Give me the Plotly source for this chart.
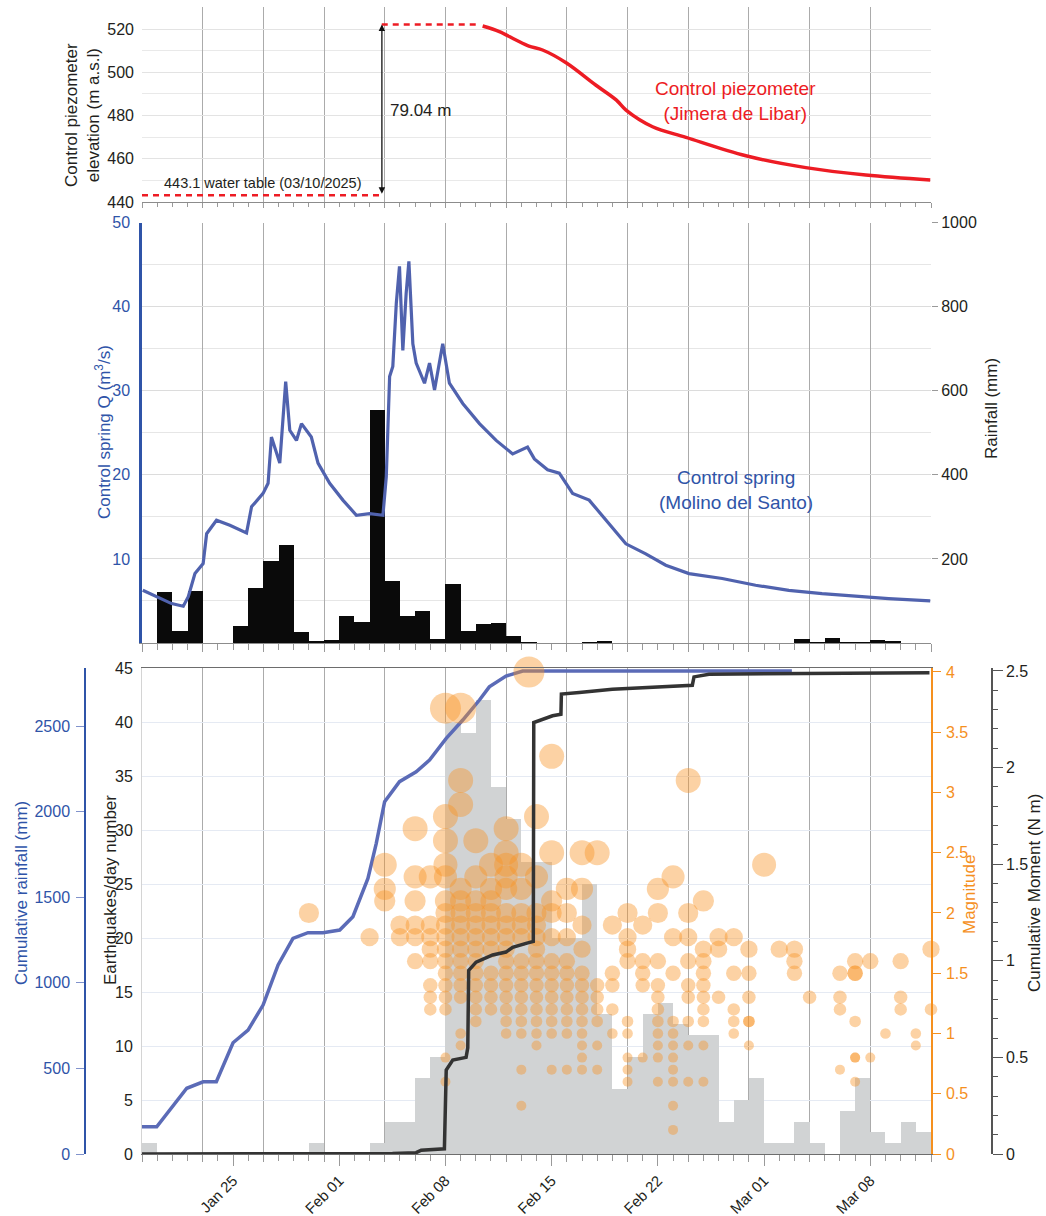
import pandas as pd
import plotly.graph_objects as go

W, H = 1046, 1216
BASE_DATE = "2026-01-19"
X_RANGE = ["2026-01-19", "2026-03-12"]
TICK_DATES = ["2026-01-25", "2026-02-01", "2026-02-08", "2026-02-15", "2026-02-22", "2026-03-01", "2026-03-08"]
TICK_LABELS = ["Jan 25", "Feb 01", "Feb 08", "Feb 15", "Feb 22", "Mar 01", "Mar 08"]

# ---------------- top panel: control piezometer ----------------
PIEZO_BASE_LEVEL = 443.1
PIEZO_RISE = 79.04
PIEZO_BASE_DAYS = [0.0, 15.8]
PIEZO_PEAK_DAYS = [15.8, 22.2]
PIEZO_DAY = [22.45, 23.55, 24.65, 25.5, 26.4, 27.95, 29.9, 31.25, 31.9, 33.65, 35.85, 39.8, 43.75, 47.7, 51.95]
PIEZO_LEVEL = [521.4, 518.8, 514.9, 512.1, 510.3, 504.4, 494.1, 487.2, 482.5, 474.8, 469.9, 461.4, 455.9, 452.5, 450.2]

# ---------------- middle panel: spring discharge + rainfall ----------------
SPRING_DAY = [0.05, 0.97, 1.95, 2.72, 3.05, 3.49, 4.03, 4.26, 4.91, 5.79, 6.89, 7.22, 7.98, 8.31, 8.53,
              9.08, 9.34, 9.47, 9.74, 10.18, 10.51, 11.16, 11.6, 12.37, 13.24, 14.13, 15.0, 15.88, 16.1,
              16.32, 16.53, 16.76, 16.97, 17.19, 17.41, 17.59, 17.85, 18.07, 18.62, 18.95, 19.28, 19.82,
              20.26, 21.14, 22.24, 23.34, 24.43, 25.41, 25.86, 26.73, 27.5, 28.38, 29.47, 30.57, 31.89,
              33.2, 34.52, 36.05, 38.24, 40.44, 42.63, 44.82, 47.02, 49.21, 51.95]
SPRING_Q = [6.27, 5.48, 4.69, 4.37, 5.5, 8.26, 9.45, 13.0, 14.6, 14.0, 13.1, 16.2, 17.8, 19.0, 24.5,
            21.4, 27.7, 31.1, 25.3, 24.1, 26.1, 24.5, 21.4, 19.0, 17.0, 15.2, 15.4, 15.2, 19.8,
            31.7, 32.9, 40.4, 44.8, 34.8, 41.6, 45.4, 35.6, 33.3, 30.9, 33.3, 30.1, 35.6,
            30.9, 28.5, 26.1, 24.1, 22.5, 23.3, 21.9, 20.6, 20.2, 17.8, 17.0, 14.6, 11.8,
            10.6, 9.25, 8.26, 7.67, 6.87, 6.27, 5.88, 5.56, 5.28, 5.0]

RAIN_DATES = ["2026-01-20", "2026-01-21", "2026-01-22", "2026-01-25", "2026-01-26", "2026-01-27",
              "2026-01-28", "2026-01-29", "2026-01-30", "2026-01-31", "2026-02-01", "2026-02-02",
              "2026-02-03", "2026-02-04", "2026-02-05", "2026-02-06", "2026-02-07", "2026-02-08",
              "2026-02-09", "2026-02-10", "2026-02-11", "2026-02-12", "2026-02-13", "2026-02-17",
              "2026-02-18", "2026-03-03", "2026-03-04", "2026-03-05", "2026-03-06", "2026-03-07",
              "2026-03-08", "2026-03-09"]
RAIN_MM = [123, 29, 125, 40, 131, 197, 233, 28, 5, 8, 66, 51, 555, 148, 66, 78, 10, 140,
           29, 46, 49, 18, 1, 1, 6, 10, 1, 13, 2, 1, 7, 5]

# ---------------- bottom panel: seismicity ----------------
EQ_FIRST_DAY = "2026-01-19"
EQ_COUNT = [1, 0, 0, 0, 0, 0, 0, 0, 0, 0, 0, 1, 0,
            0, 0, 1, 3, 3, 7, 9, 40, 39, 42, 34, 31, 27, 27, 20, 20, 25, 13, 6, 9, 13, 14, 12, 11, 11, 3, 5, 7,
            1, 1, 3, 1, 0, 4, 7, 2, 1, 3, 2]

CUMRAIN_DAY = [0.0, 0.97, 2.95, 4.03, 4.9, 6.0, 6.99, 7.98, 8.97, 9.95, 10.94, 11.93, 13.03, 13.9,
               14.89, 15.44, 15.99, 16.97, 18.07, 18.95, 20.05, 21.14, 22.24, 22.89, 23.99, 25.09, 42.83]
CUMRAIN_MM = [159, 159, 384, 422, 422, 650, 724, 870, 1104, 1260, 1293, 1293, 1308, 1386,
              1610, 1815, 2058, 2175, 2233, 2301, 2428, 2535, 2652, 2729, 2792, 2821, 2821]

MOMENT_DAY = [0.0, 15.0, 16.51, 18.07, 18.4, 19.93, 20.05, 20.48, 21.36, 21.47, 21.53, 22.02, 23.11,
              23.99, 24.43, 25.31, 25.79, 25.82, 26.4, 27.06, 27.61, 27.64, 28.82, 31.0, 36.27, 36.38,
              37.37, 51.9]
MOMENT_NM = [0.0, 0.0, 0.003, 0.007, 0.02, 0.027, 0.434, 0.486, 0.50, 0.55, 0.95, 0.993, 1.03,
             1.045, 1.07, 1.09, 1.10, 2.233, 2.25, 2.268, 2.276, 2.38, 2.388, 2.405, 2.426, 2.469,
             2.483, 2.49]

MAG_DATES = ["2026-01-30", "2026-02-03", "2026-02-04", "2026-02-05", "2026-02-06", "2026-02-07",
             "2026-02-08", "2026-02-09", "2026-02-10", "2026-02-11", "2026-02-12", "2026-02-13",
             "2026-02-13 12:00", "2026-02-14", "2026-02-15", "2026-02-16", "2026-02-17", "2026-02-18",
             "2026-02-19", "2026-02-20", "2026-02-21", "2026-02-22", "2026-02-23", "2026-02-24",
             "2026-02-25", "2026-02-26", "2026-02-27", "2026-02-28", "2026-03-01", "2026-03-02",
             "2026-03-03", "2026-03-04", "2026-03-06", "2026-03-07", "2026-03-08", "2026-03-09",
             "2026-03-10", "2026-03-11", "2026-03-12"]
MAG_VALUES = [
    [2.0],
    [1.8],
    [2.4, 2.2, 2.1],
    [1.9, 1.8],
    [2.7, 2.3, 2.1, 1.9, 1.8, 1.6],
    [2.3, 1.9, 1.8, 1.7, 1.6, 1.4, 1.3, 1.2],
    [3.7, 2.8, 2.6, 2.4, 2.3, 2.1, 2.0, 1.9, 1.8, 1.7, 1.6, 1.5, 1.4, 1.3, 1.2, 0.8, 0.6],
    [3.7, 3.1, 2.9, 2.2, 2.1, 2.0, 1.9, 1.8, 1.7, 1.6, 1.5, 1.4, 1.3, 1.0, 0.9],
    [2.6, 2.3, 2.1, 2.0, 1.9, 1.8, 1.7, 1.6, 1.5, 1.4, 1.3, 1.2, 1.1],
    [2.4, 2.2, 2.1, 2.0, 1.9, 1.8, 1.7, 1.5, 1.4, 1.3, 1.2],
    [2.7, 2.5, 2.4, 2.3, 2.2, 2.0, 1.9, 1.8, 1.7, 1.6, 1.5, 1.4, 1.3, 1.2, 1.1, 1.0],
    [2.4, 2.2, 2.0, 1.9, 1.8, 1.6, 1.5, 1.4, 1.3, 1.2, 1.1, 1.0, 0.7, 0.4],
    [4.0],
    [2.8, 2.3, 2.0, 1.9, 1.8, 1.7, 1.6, 1.5, 1.4, 1.3, 1.2, 1.1, 1.0, 0.9],
    [3.3, 2.5, 2.1, 2.0, 1.8, 1.6, 1.5, 1.4, 1.3, 1.2, 1.1, 1.0, 0.7],
    [2.2, 2.0, 1.8, 1.6, 1.5, 1.4, 1.3, 1.2, 1.1, 1.0, 0.7],
    [2.5, 2.2, 1.9, 1.7, 1.5, 1.4, 1.3, 1.2, 1.1, 1.0, 0.9, 0.8, 0.7],
    [2.5, 1.4, 1.3, 1.2, 1.1, 0.9, 0.7],
    [1.9, 1.5, 1.4, 1.2, 1.0],
    [2.0, 1.8, 1.7, 1.6, 1.1, 1.0, 0.8, 0.7, 0.6],
    [1.9, 1.6, 1.5, 1.4, 0.8],
    [2.2, 2.0, 1.6, 1.4, 1.3, 1.2, 1.1, 1.0, 0.9, 0.8, 0.6],
    [2.3, 1.8, 1.5, 1.1, 1.0, 0.9, 0.8, 0.7, 0.6, 0.4, 0.2],
    [3.1, 2.0, 1.8, 1.6, 1.4, 1.3, 1.1, 0.9, 0.6],
    [2.1, 1.7, 1.6, 1.5, 1.4, 1.3, 1.2, 1.1, 0.9, 0.6],
    [1.8, 1.7, 1.3],
    [1.8, 1.5, 1.2, 1.1, 1.0],
    [1.7, 1.5, 1.3, 1.1, 1.1, 0.9],
    [2.4],
    [1.7],
    [1.7, 1.6, 1.5],
    [1.3],
    [1.5, 1.3, 1.2, 0.7],
    [1.6, 1.5, 1.5, 1.1, 0.8, 0.8, 0.6],
    [1.6, 0.8],
    [1.0],
    [1.6, 1.3, 1.2],
    [1.0, 0.9],
    [1.7, 1.2],
]

# ---------------- helpers ----------------
base = pd.Timestamp(BASE_DATE)
DAY_MS = 86400000


def from_days(days):
    return [base + pd.to_timedelta(d, unit="D") for d in days]


def day_centres(dates):
    return [pd.Timestamp(d) + pd.Timedelta(hours=12) for d in dates]


def px_x(px):
    return px / W


def px_y(px):
    return 1 - px / H


X_DOM = [px_x(142), px_x(931)]
TOP_DOM = [px_y(202), px_y(7.4)]
MID_DOM = [px_y(643), px_y(222.7)]
BOT_DOM = [px_y(1154), px_y(668)]

FONT = "Liberation Sans, Arial, sans-serif"
DARK = "#231f20"
BLUE_TXT = "#2f54a8"
ORANGE = "#f5901e"
RED = "#ed1c24"
VGRID = "#ababab"

fig = go.Figure()

# ---- bottom panel traces ----
eq_dates = pd.date_range(EQ_FIRST_DAY, periods=len(EQ_COUNT), freq="D")
fig.add_trace(go.Bar(x=day_centres(eq_dates), y=EQ_COUNT, width=DAY_MS,
                     marker=dict(color="#d1d3d4", line=dict(width=0)),
                     xaxis="x", yaxis="y", hoverinfo="skip"))
fig.add_trace(go.Scatter(x=from_days(CUMRAIN_DAY), y=CUMRAIN_MM, mode="lines",
                         line=dict(color="#5b6bb7", width=3.5),
                         xaxis="x", yaxis="y2", hoverinfo="skip"))
mx, my = [], []
for d, mags in zip(MAG_DATES, MAG_VALUES):
    for m in mags:
        mx.append(pd.Timestamp(d))
        my.append(m)
msize = [31 if m >= 3.5 else min(max(1 + 9.6 * m, 10), 25) for m in my]
fig.add_trace(go.Scatter(x=mx, y=my, mode="markers", cliponaxis=False,
                         marker=dict(size=msize, color="rgba(247,147,38,0.6)", line=dict(width=0)),
                         xaxis="x", yaxis="y3", hoverinfo="skip"))
fig.add_trace(go.Scatter(x=from_days(MOMENT_DAY), y=MOMENT_NM, mode="lines",
                         line=dict(color="#333333", width=3.5),
                         xaxis="x", yaxis="y4", hoverinfo="skip"))
# carrier for the date label axis
fig.add_trace(go.Scatter(x=X_RANGE, y=[None, None], mode="lines", xaxis="x4", yaxis="y",
                         hoverinfo="skip"))

# ---- middle panel traces ----
fig.add_trace(go.Bar(x=day_centres(RAIN_DATES), y=RAIN_MM, width=DAY_MS,
                     marker=dict(color="#0a0a0a", line=dict(width=0)),
                     xaxis="x2", yaxis="y5", hoverinfo="skip"))
fig.add_trace(go.Scatter(x=from_days(SPRING_DAY), y=SPRING_Q, mode="lines",
                         line=dict(color="#5062ae", width=3.2),
                         xaxis="x2", yaxis="y6", hoverinfo="skip"))

# ---- top panel traces ----
peak_level = PIEZO_BASE_LEVEL + PIEZO_RISE
fig.add_trace(go.Scatter(x=from_days(PIEZO_BASE_DAYS), y=[PIEZO_BASE_LEVEL] * 2, mode="lines",
                         line=dict(color=RED, width=2.5, dash="6px,5px"),
                         xaxis="x3", yaxis="y7", hoverinfo="skip"))
fig.add_trace(go.Scatter(x=from_days(PIEZO_PEAK_DAYS), y=[peak_level] * 2, mode="lines",
                         line=dict(color=RED, width=2.5, dash="6px,5px"),
                         xaxis="x3", yaxis="y7", hoverinfo="skip"))
fig.add_trace(go.Scatter(x=from_days(PIEZO_DAY), y=PIEZO_LEVEL, mode="lines",
                         line=dict(color=RED, width=3.5, shape="spline"),
                         xaxis="x3", yaxis="y7", hoverinfo="skip"))

tickfont = dict(family=FONT, size=16, color=DARK)


def time_axis(anchor, long_len=8):
    return dict(domain=X_DOM, anchor=anchor, type="date", range=X_RANGE,
                tick0=BASE_DATE, dtick=4 * DAY_MS, showgrid=True, gridcolor=VGRID, gridwidth=1,
                ticks="outside", ticklen=long_len, tickcolor="#9a9a9a", showticklabels=False,
                minor=dict(dtick=DAY_MS, tick0=BASE_DATE, ticks="outside", ticklen=6,
                           tickcolor="#9a9a9a", showgrid=False),
                showline=True, linecolor="#8c8c8c", linewidth=1, zeroline=False,
                automargin=False, fixedrange=True)


xb = time_axis("y", long_len=7)
xb.update(mirror=True, linecolor="#6d6d6d")
x2 = time_axis("y5")
x3 = time_axis("y7", long_len=5)
x3["minor"]["ticklen"] = 4

fig.update_layout(
    width=W, height=H, template="none",
    margin=dict(l=0, r=0, t=0, b=0),
    paper_bgcolor="white", plot_bgcolor="rgba(0,0,0,0)",
    showlegend=False, bargap=0, barmode="overlay",
    font=dict(family=FONT, size=16, color=DARK),
    xaxis=xb,
    xaxis2=x2,
    xaxis3=x3,
    xaxis4=dict(domain=X_DOM, anchor="y", overlaying="x", type="date", range=X_RANGE,
                tickmode="array", tickvals=TICK_DATES, ticktext=TICK_LABELS,
                ticks="outside", ticklen=11, tickcolor="#9a9a9a", tickangle=-45,
                tickfont=dict(family=FONT, size=15, color=DARK),
                showgrid=False, showline=False, zeroline=False, automargin=False),
    # bottom panel
    yaxis=dict(domain=BOT_DOM, anchor="x", range=[0, 45], dtick=5, tick0=0,
               showgrid=True, gridcolor="#e5eaf3", gridwidth=1, zeroline=False,
               showline=True, linecolor="#d4d4d4", ticks="", ticklabelstandoff=5,
               tickfont=tickfont, automargin=False),
    yaxis2=dict(domain=BOT_DOM, overlaying="y", anchor="free", position=px_x(85), side="left",
                range=[0, 2839], tickmode="array", tickvals=[0, 500, 1000, 1500, 2000, 2500],
                showgrid=False, zeroline=False, showline=True, linecolor="#2f54a8", linewidth=1.5,
                ticks="outside", ticklen=8, tickcolor="#8193cc", ticklabelstandoff=3,
                tickfont=dict(family=FONT, size=16, color=BLUE_TXT), automargin=False),
    yaxis3=dict(domain=BOT_DOM, overlaying="y", anchor="x", side="right",
                range=[0, 4.033], dtick=0.5, tick0=0, showgrid=False, zeroline=False,
                showline=True, linecolor=ORANGE, linewidth=1.5, ticks="outside", ticklen=8,
                tickcolor=ORANGE, ticklabelstandoff=2,
                tickfont=dict(family=FONT, size=16, color=ORANGE), automargin=False),
    yaxis4=dict(domain=BOT_DOM, overlaying="y", anchor="free", position=px_x(992), side="right",
                range=[0, 2.515], dtick=0.5, tick0=0, showgrid=False, zeroline=False,
                showline=True, linecolor="#555555", linewidth=1.5, ticks="outside", ticklen=10,
                tickcolor="#555555",
                minor=dict(dtick=0.1, tick0=0, ticks="outside", ticklen=5, tickcolor="#555555"),
                tickfont=dict(family=FONT, size=16, color=DARK), automargin=False),
    # middle panel
    yaxis5=dict(domain=MID_DOM, anchor="x2", side="right", range=[0, 1000],
                tickmode="array", tickvals=[200, 400, 600, 800, 1000],
                showgrid=True, gridcolor="#dcdcdc", gridwidth=1.2, zeroline=False,
                minor=dict(tickmode="array", tickvals=[100, 300, 500, 700, 900], showgrid=True,
                           gridcolor="#e6e6e6", ticks=""),
                ticks="outside", ticklen=6, tickcolor="#9a9a9a", showline=False,
                tickfont=tickfont, automargin=False),
    yaxis6=dict(domain=MID_DOM, anchor="x2", overlaying="y5", side="left", range=[0, 50],
                tickmode="array", tickvals=[10, 20, 30, 40, 50], showgrid=False, zeroline=False,
                showline=True, linecolor="#2f54a8", linewidth=2.5, ticks="", ticklabelstandoff=6,
                tickfont=dict(family=FONT, size=16, color=BLUE_TXT), automargin=False),
    # top panel
    yaxis7=dict(domain=TOP_DOM, anchor="x3", range=[440, 530], tickmode="array",
                tickvals=[440, 460, 480, 500, 520], showgrid=True, gridcolor="#e3e3e3", gridwidth=1,
                minor=dict(tickmode="array", tickvals=[450, 470, 490, 510, 530], showgrid=True,
                           gridcolor="#e9e9e9", ticks=""),
                zeroline=False, showline=False, ticks="", ticklabelstandoff=7,
                tickfont=tickfont, automargin=False),
)

ann = []


def title(text, xpx, ypx, color=DARK, size=17):
    ann.append(dict(text=text, x=px_x(xpx), y=px_y(ypx), xref="paper", yref="paper",
                    textangle=-90, showarrow=False, xanchor="center", yanchor="middle",
                    font=dict(family=FONT, size=size, color=color)))


title("Control piezometer<br>elevation (m a.s.l)", 82, 115)
title("Control spring Q (m<sup>3</sup>/s)", 103, 432, color=BLUE_TXT)
title("Rainfall (mm)", 991, 409)
title("Earthquakes/day number", 110, 890)
title("Cumulative rainfall (mm)", 21, 893, color=BLUE_TXT)
title("Magnitude", 969, 895, color=ORANGE)
title("Cumulative Moment (N m)", 1034, 893)

ann.append(dict(text="Control piezometer<br>(Jimera de Libar)", x=px_x(735), y=px_y(101),
                xref="paper", yref="paper", showarrow=False, xanchor="center", yanchor="middle",
                font=dict(family=FONT, size=19, color=RED)))
ann.append(dict(text="Control spring<br>(Molino del Santo)", x=px_x(736), y=px_y(490),
                xref="paper", yref="paper", showarrow=False, xanchor="center", yanchor="middle",
                font=dict(family=FONT, size=19, color=BLUE_TXT)))
ann.append(dict(text=f"{PIEZO_RISE:.2f} m", x=px_x(388), y=px_y(110), xref="paper", yref="paper",
                showarrow=False, xanchor="left", yanchor="middle",
                font=dict(family=FONT, size=17, color=DARK)))
ann.append(dict(text=f"{PIEZO_BASE_LEVEL} water table (03/10/2025)", x=px_x(263), y=px_y(183),
                xref="paper", yref="paper", showarrow=False, xanchor="center", yanchor="middle",
                font=dict(family=FONT, size=14.5, color=DARK)))
arrow_x = base + pd.to_timedelta(15.81, unit="D")
ann.append(dict(x=arrow_x, y=peak_level, ax=arrow_x, ay=PIEZO_BASE_LEVEL, xref="x3", yref="y7",
                axref="x3", ayref="y7", text="", showarrow=True, arrowhead=2, arrowsize=1,
                arrowwidth=1.3, arrowcolor="#111111", arrowside="end+start"))

fig.update_layout(annotations=ann)

fig.write_html("out.html")
